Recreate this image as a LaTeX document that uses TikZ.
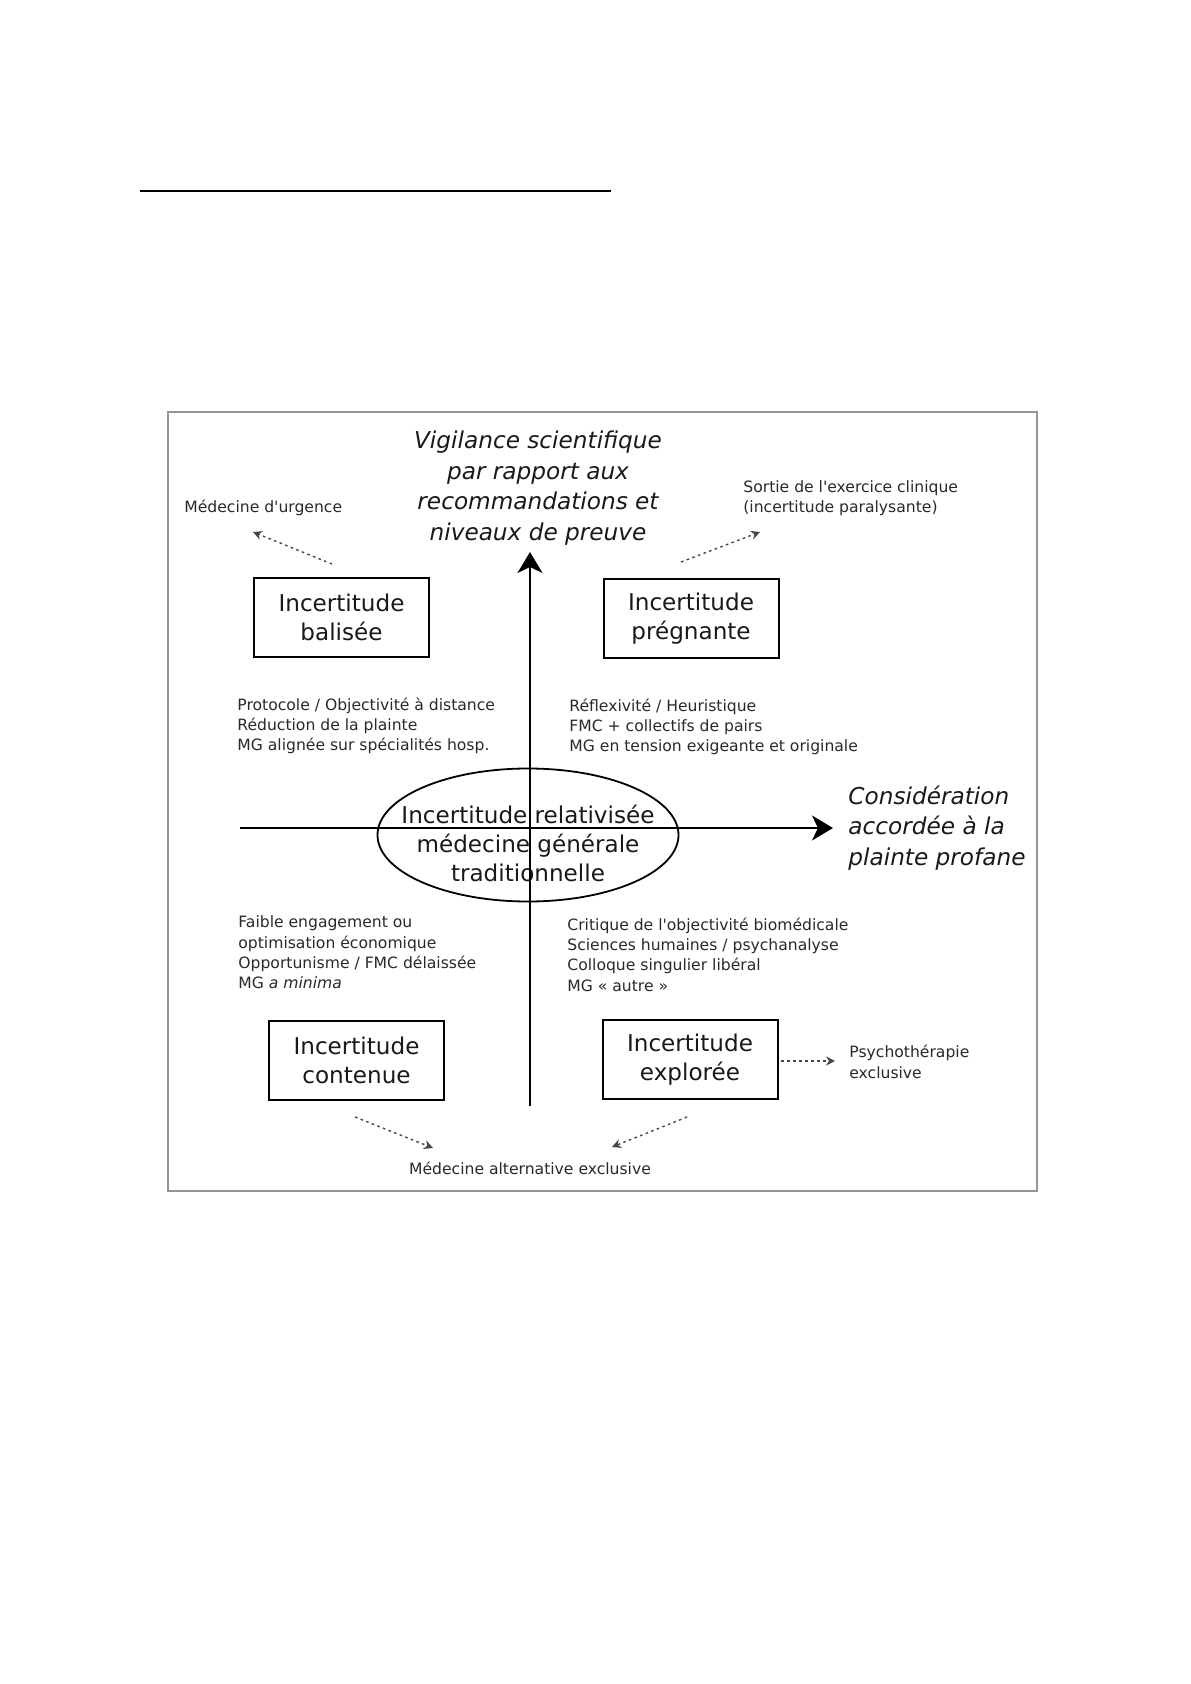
\documentclass[tikz,border=0pt]{standalone}
\usepackage{fontspec}
\setmainfont{DejaVu Sans}[Ligatures=TeXOff]
\usetikzlibrary{arrows.meta,shapes.geometric}
\definecolor{txtdark}{gray}{0.1}
\definecolor{txtgray}{gray}{0.16}
\definecolor{framegray}{gray}{0.58}
\definecolor{dotgray}{gray}{0.28}
\begin{document}
\begin{tikzpicture}[x=0.5pt,y=-0.5pt,
  small/.style={font=\fontsize{7.8pt}{10.15pt}\selectfont, text=txtgray, inner sep=0pt, align=left, anchor=west},
  big/.style={font=\fontsize{11.55pt}{14.5pt}\selectfont, text=txtdark, align=center},
  ital/.style={font=\fontsize{11.6pt}{15.25pt}\selectfont\itshape, text=txtdark, inner sep=0pt},
  qbox/.style={draw=black, line width=1pt, minimum width=87.5pt, minimum height=39.5pt, inner sep=0pt, big},
  dotarrow/.style={draw=dotgray, line width=0.7pt, dash pattern=on 1.3pt off 1.7pt, -{Stealth[length=4.5pt,width=4.5pt]}},
  axisline/.style={draw=black, line width=1pt, -{Stealth[length=10.5pt,width=12.5pt,inset=3pt]}}
]
\useasboundingbox (0,0) rectangle (1190,1684);
\fill[white] (0,0) rectangle (1190,1684);

% top rule and frame
\draw[line width=1.3pt] (140,191) -- (611,191);
\draw[draw=framegray, line width=0.8pt] (168,412) rectangle (1037,1191);

% axis labels
\node[ital, align=center] (vig) at (538,488) {Vigilance scientifique\\par rapport aux\\recommandations et\\niveaux de preuve};
\node[ital, align=left, anchor=west] (cons) at (848,828) {Considération\\accordée à la\\plainte profane};

% boxes
\node[qbox] (bal) at (341.5,617.5) {Incertitude\\balisée};
\node[qbox] (preg) at (691,618.5) {Incertitude\\prégnante};
\node[qbox] (cont) at (356.5,1060.5) {Incertitude\\contenue};
\node[qbox] (expl) at (690,1059.5) {Incertitude\\explorée};

% ellipse
\node[draw=black, ellipse, line width=0.9pt, minimum width=150.5pt, minimum height=66.5pt, inner sep=0pt] (ell) at (528,835) {};
\node[big, inner sep=0pt] (ellt) at (528,843) {Incertitude relativisée\\médecine générale\\traditionnelle};

% small texts
\node[small] (urg) at (184,508) {Médecine d'urgence};
\node[small] (sort) at (743,498) {Sortie de l'exercice clinique\\(incertitude paralysante)};
\node[small] (prot) at (237,726) {Protocole / Objectivité à distance\\Réduction de la plainte\\MG alignée sur spécialités hosp.};
\node[small] (refl) at (569,727) {Réflexivité / Heuristique\\FMC + collectifs de pairs\\MG en tension exigeante et originale};
\node[small] (faib) at (238,952.5) {Faible engagement ou\\optimisation économique\\Opportunisme / FMC délaissée\\MG \textit{a minima}};
\node[small] (crit) at (567,954.5) {Critique de l'objectivité biomédicale\\Sciences humaines / psychanalyse\\Colloque singulier libéral\\MG « autre »};
\node[small] (psy) at (849,1062) {Psychothérapie\\exclusive};
\node[small, anchor=center] (alt) at (530,1168) {Médecine alternative exclusive};

% axes
\coordinate (vbot) at (530,1106);
\coordinate (vtop) at (530,552);
\coordinate (hleft) at (240,828);
\coordinate (hright) at (833,828);
\draw[axisline] (vbot) -- (vtop);
\draw[axisline] (hleft) -- (hright);

% dotted arrows
\coordinate (u1) at (332,564);
\coordinate (u2) at (253,532);
\coordinate (s1) at (681,562);
\coordinate (s2) at (760,532);
\coordinate (p1) at (781,1061);
\coordinate (p2) at (835,1061);
\coordinate (a1) at (355,1117);
\coordinate (a2) at (433,1148);
\coordinate (b1) at (687,1117);
\coordinate (b2) at (612,1147);
\draw[dotarrow] (u1) -- (u2);
\draw[dotarrow] (s1) -- (s2);
\draw[dotarrow] (p1) -- (p2);
\draw[dotarrow] (a1) -- (a2);
\draw[dotarrow] (b1) -- (b2);
\end{tikzpicture}
\end{document}
